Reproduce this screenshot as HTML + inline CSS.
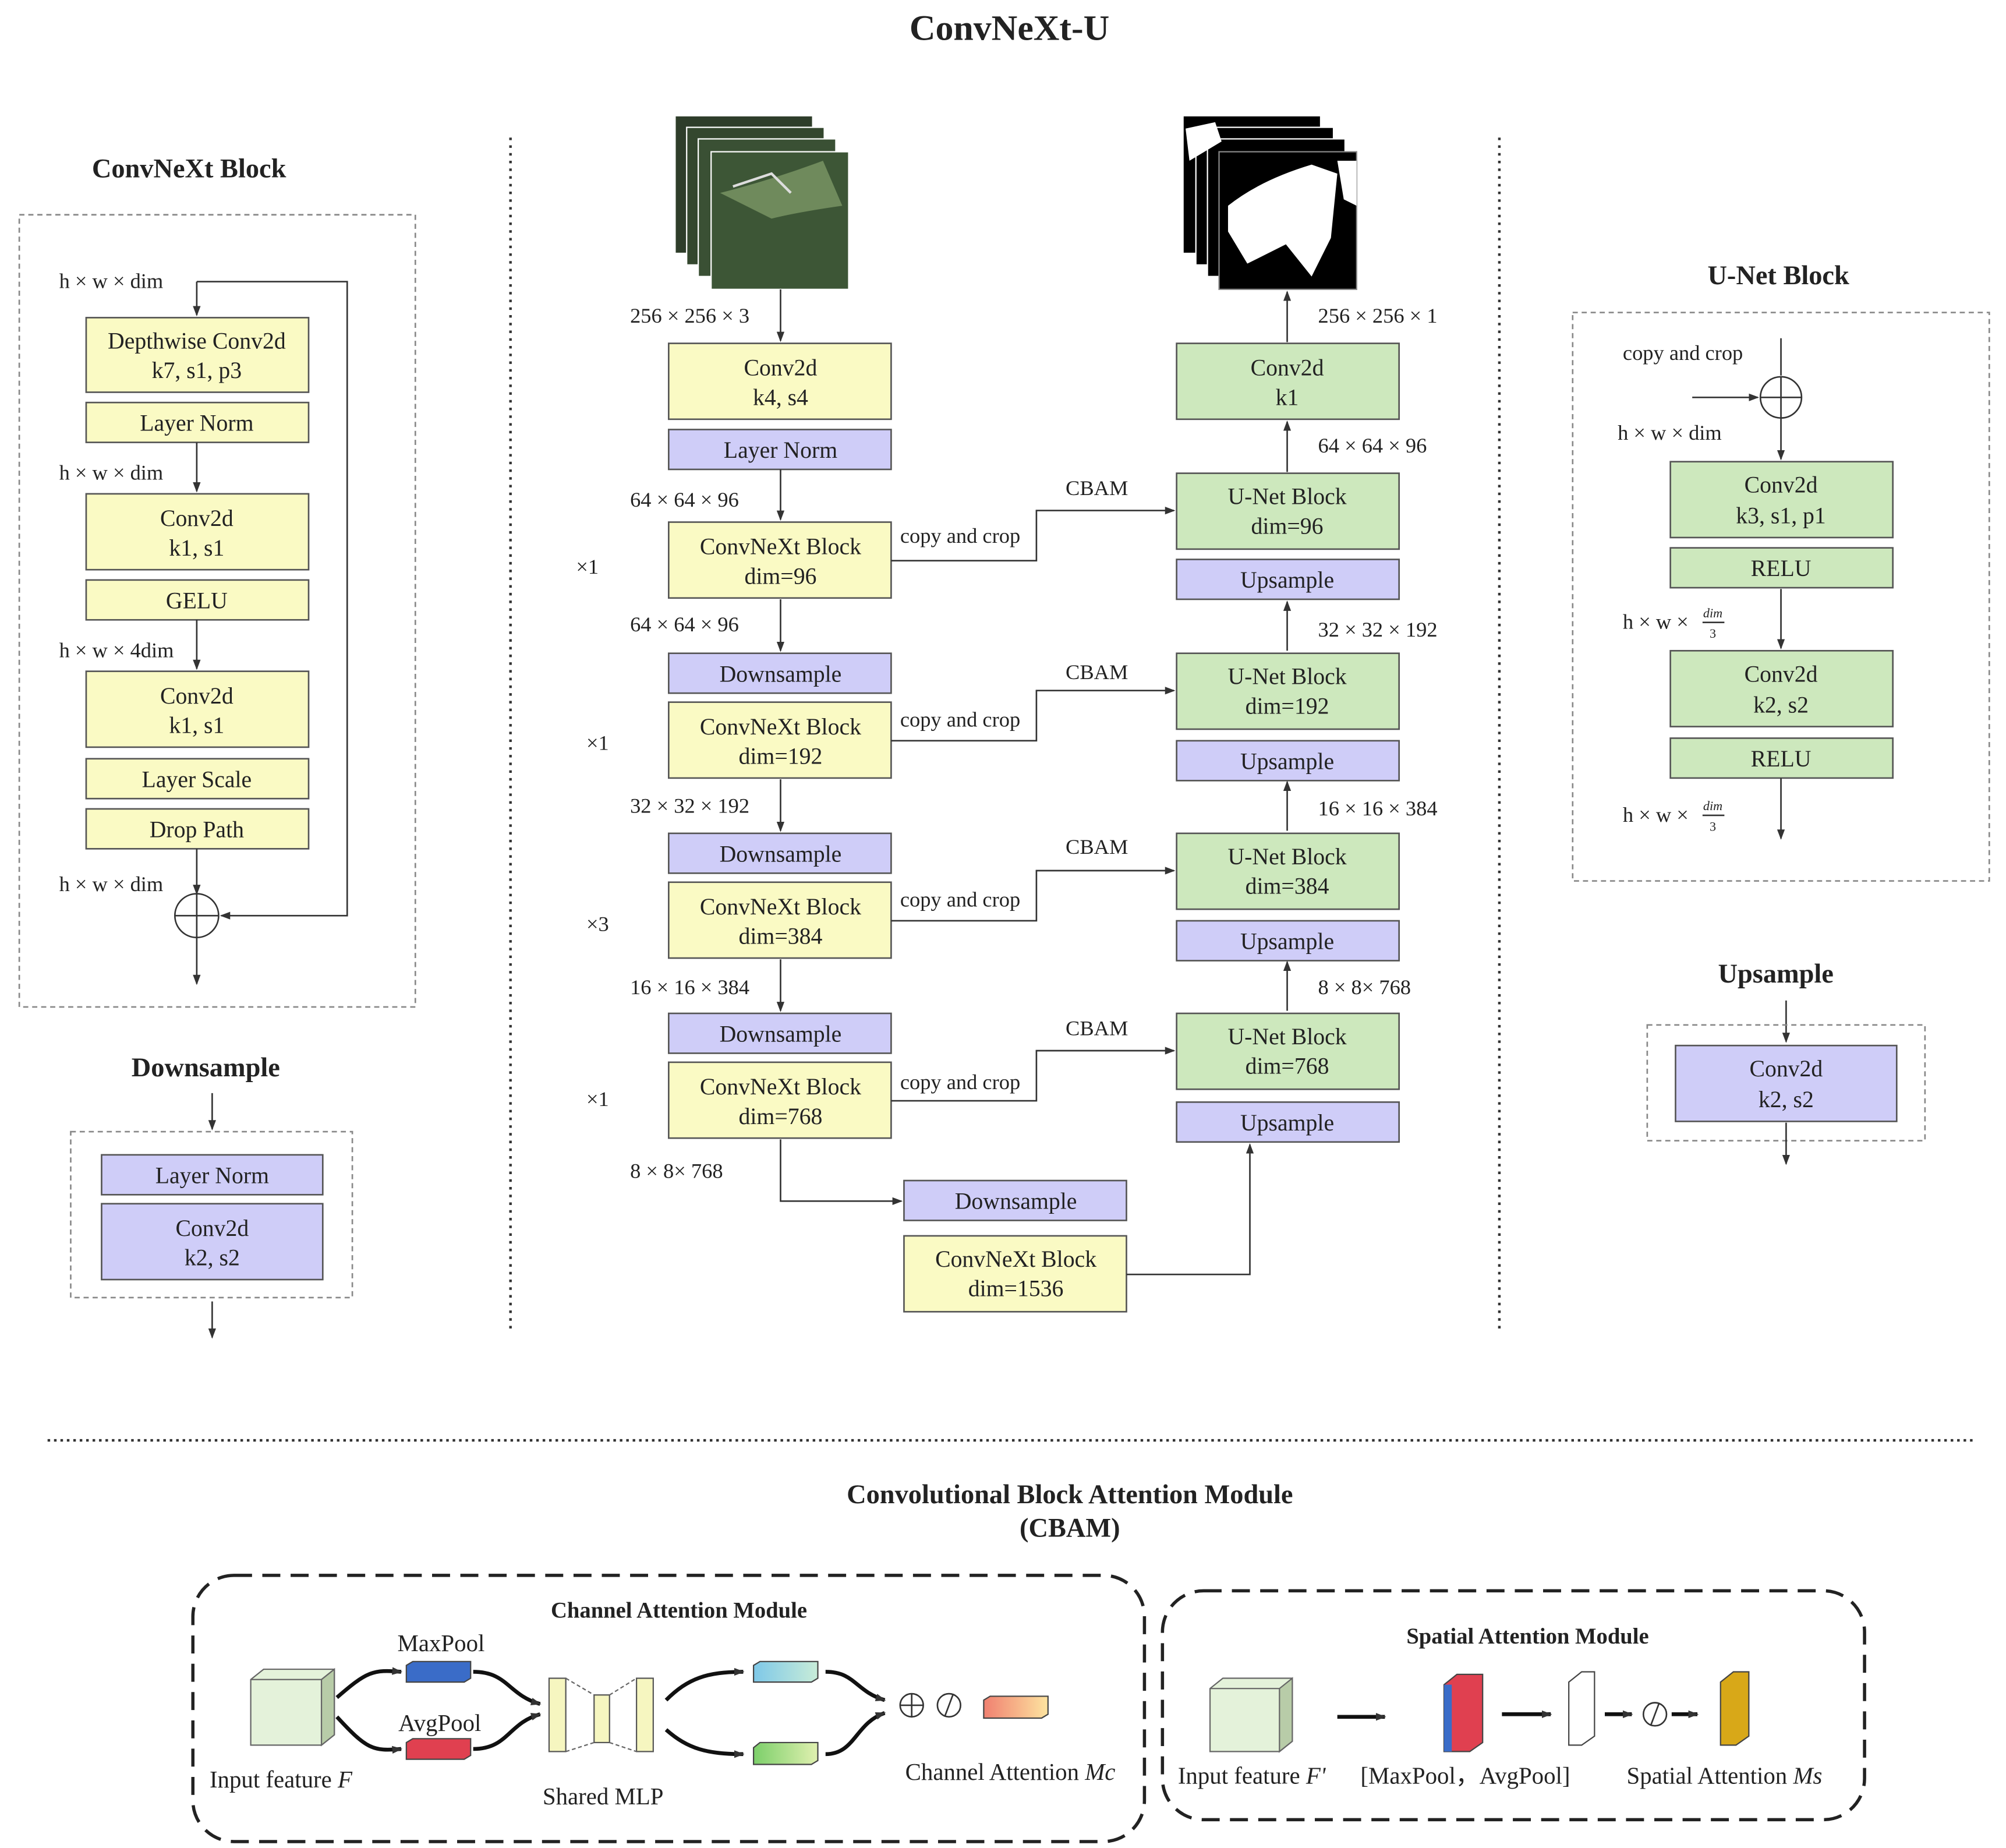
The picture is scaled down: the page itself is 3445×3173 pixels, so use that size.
<!DOCTYPE html>
<html><head><meta charset="utf-8"><style>
html,body{margin:0;padding:0;background:#fff;}
svg{display:block;}
text{font-family:"Liberation Serif",serif;fill:#222;}
.b{font-size:18px;text-anchor:middle;}
.l{font-size:16.5px;}
.t{font-size:21px;font-weight:bold;text-anchor:middle;}
.s{font-size:18.5px;}
.y{fill:#fafac4;stroke:#555;stroke-width:1.2;}
.p{fill:#cfcdf8;stroke:#555;stroke-width:1.2;}
.g{fill:#cde8bd;stroke:#555;stroke-width:1.2;}
.ln{stroke:#333;stroke-width:1.2;fill:none;}
.ds{stroke:#888;stroke-width:1.2;fill:none;stroke-dasharray:4 3;}
.bd{stroke:#222;stroke-width:2.5;fill:none;stroke-dasharray:14 8;}
</style></head><body>
<svg width="3445" height="3173" viewBox="0 0 1560 1437" preserveAspectRatio="none" xmlns="http://www.w3.org/2000/svg">
<defs><marker id="a" markerWidth="8" markerHeight="8" refX="7" refY="4" orient="auto" markerUnits="userSpaceOnUse"><path d="M0,1 L8,4 L0,7 z" fill="#333"/></marker>
<linearGradient id="gc" x1="0" x2="1"><stop offset="0" stop-color="#7ec8e8"/><stop offset="1" stop-color="#c8ecd8"/></linearGradient>
<linearGradient id="gg" x1="0" x2="1"><stop offset="0" stop-color="#7ccf6a"/><stop offset="1" stop-color="#e0f0b0"/></linearGradient>
<linearGradient id="go" x1="0" x2="1"><stop offset="0" stop-color="#f08070"/><stop offset="1" stop-color="#fde4a0"/></linearGradient>
</defs>
<text x="785" y="31" class="t" style="font-size:28px">ConvNeXt-U</text>

<!-- ConvNeXt Block -->
<text x="147" y="138" class="t">ConvNeXt Block</text>
<rect x="15" y="167" width="308" height="616" class="ds"/>
<text x="46" y="224" class="l">h × w × dim</text>
<path d="M153,219 V245" class="ln" marker-end="url(#a)"/>
<path d="M153,219 H270 V712 H172" class="ln" marker-end="url(#a)"/>
<rect x="67" y="247" width="173" height="58" class="y"/><text x="153" y="271" class="b">Depthwise Conv2d</text><text x="153" y="294" class="b">k7, s1, p3</text>
<rect x="67" y="313" width="173" height="31" class="y"/><text x="153" y="335" class="b">Layer Norm</text>
<text x="46" y="373" class="l">h × w × dim</text>
<path d="M153,344 V382" class="ln" marker-end="url(#a)"/>
<rect x="67" y="384" width="173" height="59" class="y"/><text x="153" y="409" class="b">Conv2d</text><text x="153" y="432" class="b">k1, s1</text>
<rect x="67" y="451" width="173" height="31" class="y"/><text x="153" y="473" class="b">GELU</text>
<text x="46" y="511" class="l">h × w × 4dim</text>
<path d="M153,482 V520" class="ln" marker-end="url(#a)"/>
<rect x="67" y="522" width="173" height="59" class="y"/><text x="153" y="547" class="b">Conv2d</text><text x="153" y="570" class="b">k1, s1</text>
<rect x="67" y="590" width="173" height="31" class="y"/><text x="153" y="612" class="b">Layer Scale</text>
<rect x="67" y="629" width="173" height="31" class="y"/><text x="153" y="651" class="b">Drop Path</text>
<text x="46" y="693" class="l">h × w × dim</text>
<path d="M153,660 V695" class="ln" marker-end="url(#a)"/>
<circle cx="153" cy="712" r="17" class="ln"/><path d="M136,712 H170 M153,695 V729" class="ln"/>
<path d="M153,729 V765" class="ln" marker-end="url(#a)"/>

<!-- Downsample -->
<text x="160" y="837" class="t">Downsample</text>
<path d="M165,850 V878" class="ln" marker-end="url(#a)"/>
<rect x="55" y="880" width="219" height="129" class="ds"/>
<rect x="79" y="898" width="172" height="31" class="p"/><text x="165" y="920" class="b">Layer Norm</text>
<rect x="79" y="936" width="172" height="59" class="p"/><text x="165" y="961" class="b">Conv2d</text><text x="165" y="984" class="b">k2, s2</text>
<path d="M165,1012 V1040" class="ln" marker-end="url(#a)"/>

<path d="M397,107 V1037 M1166,107 V1037" stroke="#333" stroke-width="2" stroke-dasharray="2 4"/>

<!-- input image -->
<rect x="525" y="90" width="107" height="107" fill="#2e3d2a" stroke="#fff"/>
<rect x="534" y="99" width="107" height="107" fill="#34472e" stroke="#fff"/>
<rect x="543" y="108" width="107" height="107" fill="#3a5034" stroke="#fff"/>
<rect x="553" y="118" width="107" height="107" fill="#3d5636" stroke="#fff"/>
<path d="M560,150 Q600,140 640,125 L655,160 Q620,165 600,170 Z" fill="#6f8a5c"/>
<path d="M570,145 L600,135 L615,150" stroke="#ddd" stroke-width="2" fill="none"/>
<text x="490" y="251" class="l">256 × 256 × 3</text>
<path d="M607,225 V265" class="ln" marker-end="url(#a)"/>
<rect x="520" y="267" width="173" height="59" class="y"/><text x="607" y="292" class="b">Conv2d</text><text x="607" y="315" class="b">k4, s4</text>
<rect x="520" y="334" width="173" height="31" class="p"/><text x="607" y="356" class="b">Layer Norm</text>
<text x="490" y="394" class="l">64 × 64 × 96</text>
<path d="M607,365 V404" class="ln" marker-end="url(#a)"/>
<rect x="520" y="406" width="173" height="59" class="y"/><text x="607" y="431" class="b">ConvNeXt Block</text><text x="607" y="454" class="b">dim=96</text>
<text x="448" y="446" class="l">×1</text>
<text x="490" y="491" class="l">64 × 64 × 96</text>
<path d="M607,466 V506" class="ln" marker-end="url(#a)"/>
<rect x="520" y="508" width="173" height="31" class="p"/><text x="607" y="530" class="b">Downsample</text>
<rect x="520" y="546" width="173" height="59" class="y"/><text x="607" y="571" class="b">ConvNeXt Block</text><text x="607" y="594" class="b">dim=192</text>
<text x="456" y="583" class="l">×1</text>
<text x="490" y="632" class="l">32 × 32 × 192</text>
<path d="M607,606 V646" class="ln" marker-end="url(#a)"/>
<rect x="520" y="648" width="173" height="31" class="p"/><text x="607" y="670" class="b">Downsample</text>
<rect x="520" y="686" width="173" height="59" class="y"/><text x="607" y="711" class="b">ConvNeXt Block</text><text x="607" y="734" class="b">dim=384</text>
<text x="456" y="724" class="l">×3</text>
<text x="490" y="773" class="l">16 × 16 × 384</text>
<path d="M607,746 V786" class="ln" marker-end="url(#a)"/>
<rect x="520" y="788" width="173" height="31" class="p"/><text x="607" y="810" class="b">Downsample</text>
<rect x="520" y="826" width="173" height="59" class="y"/><text x="607" y="851" class="b">ConvNeXt Block</text><text x="607" y="874" class="b">dim=768</text>
<text x="456" y="860" class="l">×1</text>
<text x="490" y="916" class="l">8 × 8× 768</text>
<path d="M607,886 V934 H701" class="ln" marker-end="url(#a)"/>
<rect x="703" y="918" width="173" height="31" class="p"/><text x="790" y="940" class="b">Downsample</text>
<rect x="703" y="961" width="173" height="59" class="y"/><text x="790" y="985" class="b">ConvNeXt Block</text><text x="790" y="1008" class="b">dim=1536</text>
<path d="M876,991 H972 V890" class="ln" marker-end="url(#a)"/>

<!-- output mask -->
<rect x="920" y="90" width="107" height="107" fill="#000" stroke="#fff"/>
<rect x="930" y="99" width="107" height="107" fill="#000" stroke="#fff"/>
<rect x="939" y="108" width="107" height="107" fill="#000" stroke="#fff"/>
<rect x="948" y="118" width="107" height="107" fill="#000" stroke="#888"/>
<path d="M955,160 Q980,140 1020,128 L1040,135 L1035,185 L1020,215 L1000,190 L970,205 L955,180 Z" fill="#fff"/>
<path d="M922,100 L945,95 L950,110 L925,125 Z M1040,125 L1055,125 L1055,160 L1045,155 Z" fill="#fff"/>
<path d="M1001,266 V227" class="ln" marker-end="url(#a)"/>
<text x="1025" y="251" class="l">256 × 256 × 1</text>
<rect x="915" y="267" width="173" height="59" class="g"/><text x="1001" y="292" class="b">Conv2d</text><text x="1001" y="315" class="b">k1</text>
<path d="M1001,367 V328" class="ln" marker-end="url(#a)"/>
<text x="1025" y="352" class="l">64 × 64 × 96</text>
<rect x="915" y="368" width="173" height="59" class="g"/><text x="1001" y="392" class="b">U-Net Block</text><text x="1001" y="415" class="b">dim=96</text>
<rect x="915" y="435" width="173" height="31" class="p"/><text x="1001" y="457" class="b">Upsample</text>
<text x="1025" y="495" class="l">32 × 32 × 192</text>
<path d="M1001,506 V468" class="ln" marker-end="url(#a)"/>
<rect x="915" y="508" width="173" height="59" class="g"/><text x="1001" y="532" class="b">U-Net Block</text><text x="1001" y="555" class="b">dim=192</text>
<rect x="915" y="576" width="173" height="31" class="p"/><text x="1001" y="598" class="b">Upsample</text>
<text x="1025" y="634" class="l">16 × 16 × 384</text>
<path d="M1001,646 V608" class="ln" marker-end="url(#a)"/>
<rect x="915" y="648" width="173" height="59" class="g"/><text x="1001" y="672" class="b">U-Net Block</text><text x="1001" y="695" class="b">dim=384</text>
<rect x="915" y="716" width="173" height="31" class="p"/><text x="1001" y="738" class="b">Upsample</text>
<text x="1025" y="773" class="l">8 × 8× 768</text>
<path d="M1001,786 V748" class="ln" marker-end="url(#a)"/>
<rect x="915" y="788" width="173" height="59" class="g"/><text x="1001" y="812" class="b">U-Net Block</text><text x="1001" y="835" class="b">dim=768</text>
<rect x="915" y="857" width="173" height="31" class="p"/><text x="1001" y="879" class="b">Upsample</text>

<!-- copy and crop -->
<path d="M693,436 H806 V397 H913" class="ln" marker-end="url(#a)"/>
<text x="700" y="422" class="l">copy and crop</text><text x="853" y="385" class="l" text-anchor="middle">CBAM</text>
<path d="M693,576 H806 V537 H913" class="ln" marker-end="url(#a)"/>
<text x="700" y="565" class="l">copy and crop</text><text x="853" y="528" class="l" text-anchor="middle">CBAM</text>
<path d="M693,716 H806 V677 H913" class="ln" marker-end="url(#a)"/>
<text x="700" y="705" class="l">copy and crop</text><text x="853" y="664" class="l" text-anchor="middle">CBAM</text>
<path d="M693,856 H806 V817 H913" class="ln" marker-end="url(#a)"/>
<text x="700" y="847" class="l">copy and crop</text><text x="853" y="805" class="l" text-anchor="middle">CBAM</text>

<!-- U-Net Block -->
<text x="1383" y="221" class="t">U-Net Block</text>
<rect x="1223" y="243" width="324" height="442" class="ds"/>
<text x="1262" y="280" class="l">copy and crop</text>
<path d="M1385,263 V292" class="ln"/>
<path d="M1316,309 H1367" class="ln" marker-end="url(#a)"/>
<circle cx="1385" cy="309" r="16" class="ln"/><path d="M1369,309 H1401 M1385,293 V325" class="ln"/>
<text x="1258" y="342" class="l">h × w × dim</text>
<path d="M1385,325 V357" class="ln" marker-end="url(#a)"/>
<rect x="1299" y="359" width="173" height="59" class="g"/><text x="1385" y="383" class="b">Conv2d</text><text x="1385" y="407" class="b">k3, s1, p1</text>
<rect x="1299" y="426" width="173" height="31" class="g"/><text x="1385" y="448" class="b">RELU</text>
<text x="1262" y="489" class="l">h × w ×</text><text x="1332" y="480" class="l" style="font-size:10px;font-style:italic" text-anchor="middle">dim</text><path d="M1324,484 H1341" class="ln" stroke-width="0.8"/><text x="1332" y="496" class="l" style="font-size:10px" text-anchor="middle">3</text>
<path d="M1385,458 V504" class="ln" marker-end="url(#a)"/>
<rect x="1299" y="506" width="173" height="59" class="g"/><text x="1385" y="530" class="b">Conv2d</text><text x="1385" y="554" class="b">k2, s2</text>
<rect x="1299" y="574" width="173" height="31" class="g"/><text x="1385" y="596" class="b">RELU</text>
<text x="1262" y="639" class="l">h × w ×</text><text x="1332" y="630" class="l" style="font-size:10px;font-style:italic" text-anchor="middle">dim</text><path d="M1324,634 H1341" class="ln" stroke-width="0.8"/><text x="1332" y="646" class="l" style="font-size:10px" text-anchor="middle">3</text>
<path d="M1385,605 V652" class="ln" marker-end="url(#a)"/>

<!-- Upsample -->
<text x="1381" y="764" class="t">Upsample</text>
<path d="M1389,778 V810" class="ln" marker-end="url(#a)"/>
<rect x="1281" y="797" width="216" height="90" class="ds"/>
<rect x="1303" y="813" width="172" height="59" class="p"/><text x="1389" y="837" class="b">Conv2d</text><text x="1389" y="861" class="b">k2, s2</text>
<path d="M1389,873 V905" class="ln" marker-end="url(#a)"/>

<path d="M37,1120 H1537" stroke="#333" stroke-width="2" stroke-dasharray="2 3"/>

<!-- CBAM -->
<text x="832" y="1169" class="t">Convolutional Block Attention Module</text>
<text x="832" y="1195" class="t">(CBAM)</text>
<rect x="150" y="1225" width="740" height="207" rx="32" class="bd"/>
<rect x="904" y="1237" width="546" height="178" rx="32" class="bd"/>
<text x="528" y="1258" class="t" style="font-size:17.5px">Channel Attention Module</text>
<path d="M195,1306 L205,1298 L260,1298 L260,1349 L250,1357 L195,1357 Z" fill="#e4f2da" stroke="#666"/>
<path d="M195,1306 H250 V1357 M250,1306 L260,1298" stroke="#666" fill="none"/>
<path d="M250,1306 L260,1298 V1349 L250,1357 Z" fill="#b8cca8" stroke="#666"/>
<text x="163" y="1390" class="s">Input feature  <tspan font-style="italic">F</tspan></text>
<text x="343" y="1284" class="s" text-anchor="middle">MaxPool</text>
<path d="M316,1295 L321,1292 L366,1292 L366,1305 L361,1308 L316,1308 Z" fill="#3a6cc8" stroke="#444"/>
<text x="342" y="1346" class="s" text-anchor="middle">AvgPool</text>
<path d="M316,1355 L321,1352 L366,1352 L366,1365 L361,1368 L316,1368 Z" fill="#e04050" stroke="#444"/>
<path d="M262,1320 C285,1300 290,1298 312,1300" stroke="#111" stroke-width="3" fill="none" marker-end="url(#a)"/>
<path d="M262,1335 C285,1360 290,1362 312,1360" stroke="#111" stroke-width="3" fill="none" marker-end="url(#a)"/>
<path d="M368,1300 C395,1300 395,1318 420,1325" stroke="#111" stroke-width="3" fill="none" marker-end="url(#a)"/>
<path d="M368,1360 C395,1360 395,1340 420,1333" stroke="#111" stroke-width="3" fill="none" marker-end="url(#a)"/>
<rect x="427" y="1305" width="13" height="57" fill="#f6f6c0" stroke="#555"/>
<rect x="462" y="1318" width="12" height="37" fill="#f6f6c0" stroke="#555"/>
<rect x="495" y="1305" width="13" height="57" fill="#f6f6c0" stroke="#555"/>
<path d="M440,1305 L462,1318 M440,1362 L462,1355 M474,1318 L495,1305 M474,1355 L495,1362" stroke="#666" stroke-dasharray="3 2"/>
<text x="469" y="1403" class="s" text-anchor="middle">Shared MLP</text>
<path d="M518,1322 C535,1305 550,1300 578,1300" stroke="#111" stroke-width="3" fill="none" marker-end="url(#a)"/>
<path d="M518,1345 C535,1360 550,1364 578,1364" stroke="#111" stroke-width="3" fill="none" marker-end="url(#a)"/>
<path d="M586,1295 L591,1292 L636,1292 L636,1305 L631,1308 L586,1308 Z" fill="url(#gc)" stroke="#444"/>
<path d="M586,1359 L591,1355 L636,1355 L636,1369 L631,1372 L586,1372 Z" fill="url(#gg)" stroke="#444"/>
<path d="M642,1300 C665,1300 665,1315 688,1322" stroke="#111" stroke-width="3" fill="none" marker-end="url(#a)"/>
<path d="M642,1364 C665,1364 665,1340 688,1332" stroke="#111" stroke-width="3" fill="none" marker-end="url(#a)"/>
<circle cx="709" cy="1326" r="9" class="ln"/><path d="M700,1326 H718 M709,1317 V1335" class="ln"/>
<circle cx="738" cy="1326" r="9" class="ln"/><path d="M735,1334 L741,1318" class="ln"/>
<path d="M765,1322 L770,1319 L815,1319 L815,1333 L810,1336 L765,1336 Z" fill="url(#go)" stroke="#444"/>
<text x="704" y="1384" class="s">Channel Attention  <tspan font-style="italic">Mc</tspan></text>

<text x="1188" y="1278" class="t" style="font-size:17.5px">Spatial Attention Module</text>
<path d="M941,1313 L951,1305 L1005,1305 L1005,1354 L995,1362 L941,1362 Z" fill="#e4f2da" stroke="#666"/>
<path d="M995,1313 L1005,1305 V1354 L995,1362 Z" fill="#b8cca8" stroke="#666"/>
<path d="M941,1313 H995" stroke="#666"/>
<text x="916" y="1387" class="s">Input feature  <tspan font-style="italic">F'</tspan></text>
<path d="M1040,1335 H1077" stroke="#111" stroke-width="3" marker-end="url(#a)"/>
<path d="M1123,1310 L1133,1302 L1153,1302 L1153,1355 L1143,1362 L1123,1362 Z" fill="#e04050" stroke="#444"/>
<rect x="1123" y="1310" width="6" height="52" fill="#3a6cc8"/>
<text x="1058" y="1387" class="s">[MaxPool，AvgPool]</text>
<path d="M1168,1333 H1206" stroke="#111" stroke-width="3" marker-end="url(#a)"/>
<path d="M1220,1308 L1230,1300 L1240,1300 L1240,1350 L1230,1357 L1220,1357 Z" fill="#fff" stroke="#444"/>
<path d="M1248,1333 H1269" stroke="#111" stroke-width="3" marker-end="url(#a)"/>
<circle cx="1287" cy="1333" r="9" class="ln"/><path d="M1284,1341 L1290,1325" class="ln"/>
<path d="M1300,1333 H1320" stroke="#111" stroke-width="3" marker-end="url(#a)"/>
<path d="M1338,1308 L1348,1300 L1360,1300 L1360,1350 L1350,1357 L1338,1357 Z" fill="#d8a818" stroke="#444"/>
<text x="1265" y="1387" class="s">Spatial Attention  <tspan font-style="italic">Ms</tspan></text>
</svg>
</body></html>
